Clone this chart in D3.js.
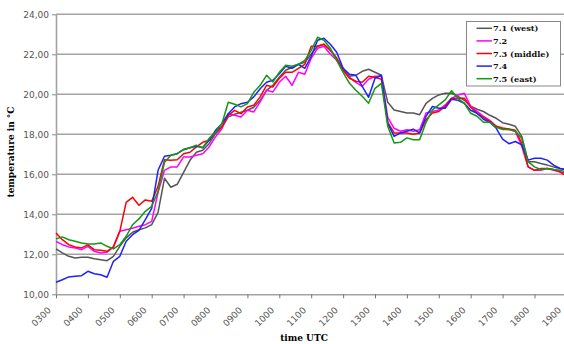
<!DOCTYPE html>
<html><head><meta charset="utf-8">
<script src="https://cdn.jsdelivr.net/npm/d3@7"></script>
<style>body{margin:0;background:#fff}svg{display:block}</style>
</head><body><svg id="c" width="564" height="344"></svg>
<script>
const hourTicks = [3,4,5,6,7,8,9,10,11,12,13,14,15,16,17,18,19];
const xTickLabels = ["0300","0400","0500","0600","0700","0800","0900","1000","1100","1200","1300","1400","1500","1600","1700","1800","1900"];
const yTicks = [10,12,14,16,18,20,22,24];
const yTickLabels = ["10,00","12,00","14,00","16,00","18,00","20,00","22,00","24,00"];
const seriesNames = ["7.1 (west)","7.2","7.3 (middle)","7.4","7.5 (east)"];
const seriesColors = ["#555555","#ff00ff","#ff0000","#2020ff","#119911"];
const times = [3.0,3.2,3.4,3.6,3.8,4.0,4.2,4.4,4.6,4.8,5.0,5.2,5.4,5.6,5.8,6.0,6.2,6.4,6.6,6.8,7.0,7.2,7.4,7.6,7.8,8.0,8.2,8.4,8.6,8.8,9.0,9.2,9.4,9.6,9.8,10.0,10.2,10.4,10.6,10.8,11.0,11.2,11.4,11.6,11.8,12.0,12.2,12.4,12.6,12.8,13.0,13.2,13.4,13.6,13.8,14.0,14.2,14.4,14.6,14.8,15.0,15.2,15.4,15.6,15.8,16.0,16.2,16.4,16.6,16.8,17.0,17.2,17.4,17.6,17.8,18.0,18.2,18.4,18.6,18.8,19.0];
const s71 = [12.27,12.07,11.9,11.82,11.85,11.85,11.78,11.73,11.68,11.9,12.4,12.82,13.1,13.23,13.32,13.48,14.1,15.8,15.35,15.5,16.1,16.7,17.1,17.2,17.53,18.03,18.35,18.87,19.0,19.1,19.2,19.35,19.7,20.2,20.45,20.85,21.2,21.35,21.5,21.6,22.0,22.4,22.5,22.2,21.8,21.3,20.9,20.95,21.15,21.25,21.1,20.95,19.6,19.22,19.14,19.06,19.06,18.98,19.55,19.8,19.97,20.05,20.05,19.9,19.7,19.4,19.25,19.14,18.95,18.8,18.58,18.5,18.4,17.9,16.63,16.63,16.54,16.46,16.37,16.29,16.2];
const s72 = [12.65,12.48,12.37,12.32,12.23,12.4,12.15,12.07,12.1,12.37,13.15,13.23,13.3,13.4,13.48,13.65,15.1,16.2,16.37,16.37,16.87,16.87,16.95,17.03,17.37,17.87,18.28,19.03,18.95,18.87,19.2,19.12,19.62,20.2,20.12,20.6,20.9,20.45,21.1,21.0,21.8,22.3,22.4,22.0,21.7,21.2,20.85,20.6,20.4,20.75,20.9,20.9,18.85,18.3,18.15,18.23,18.15,18.23,19.06,19.14,19.22,19.47,19.8,19.97,20.05,19.4,19.15,18.9,18.7,18.4,18.27,18.24,18.15,17.4,16.37,16.2,16.2,16.29,16.2,16.12,16.05];
const s73 = [13.07,12.73,12.48,12.37,12.32,12.47,12.23,12.2,12.15,12.37,13.15,14.6,14.85,14.45,14.72,14.65,15.4,16.73,16.7,16.73,17.03,17.1,17.37,17.6,17.7,18.1,18.37,18.95,19.2,19.03,19.37,19.45,19.87,20.45,20.37,20.8,21.1,21.1,21.3,21.5,22.4,22.4,22.5,22.2,21.8,21.2,20.8,20.65,20.6,20.9,20.85,20.75,18.6,18.07,18.07,18.07,18.0,18.07,18.73,19.06,19.14,19.4,19.8,19.8,19.8,19.35,19.05,18.85,18.65,18.4,18.32,18.27,18.2,17.56,16.37,16.2,16.29,16.29,16.24,16.12,15.9];
const s74 = [10.6,10.73,10.87,10.9,10.93,11.15,11.03,10.98,10.85,11.65,11.9,12.65,12.98,13.2,13.73,14.3,16.2,16.9,16.95,17.03,17.23,17.33,17.4,17.33,17.7,18.2,18.53,19.03,19.37,19.53,19.6,19.87,20.28,20.6,20.7,21.03,21.4,21.3,21.5,21.3,21.9,22.7,22.8,22.5,22.1,21.3,21.0,20.95,20.4,19.85,20.8,20.95,18.55,17.9,18.07,18.15,18.26,18.07,18.9,19.39,19.3,19.3,19.75,19.7,19.55,19.2,19.05,18.75,18.6,18.3,17.76,17.53,17.64,17.47,16.71,16.8,16.8,16.71,16.46,16.29,16.25];
const s75 = [12.77,12.87,12.73,12.65,12.57,12.52,12.52,12.57,12.4,12.27,12.48,12.9,13.48,13.77,14.15,14.4,15.15,16.6,16.95,17.03,17.25,17.33,17.45,17.33,17.8,18.1,18.53,19.6,19.5,19.37,19.53,20.1,20.45,20.95,20.62,21.1,21.45,21.4,21.5,21.7,22.2,22.85,22.7,22.3,21.7,21.1,20.55,20.2,19.9,19.55,20.3,20.55,18.4,17.57,17.6,17.82,17.73,17.73,18.6,19.22,19.47,19.72,20.18,19.8,19.55,19.05,18.9,18.6,18.6,18.35,18.24,18.24,18.15,17.8,16.63,16.37,16.24,16.29,16.24,16.2,16.1];
const seriesValues = [s71,s72,s73,s74,s75];

const svg = d3.select("#c");
const x = d3.scaleLinear().domain([3,19]).range([56,566.4]);
const y = d3.scaleLinear().domain([10,24]).range([294.3,14.3]);
const gridCol = "#a3a3a3";

// gridlines
svg.append("g").selectAll("line").data(yTicks.filter(v=>v>10)).join("line")
  .attr("x1",56).attr("x2",564).attr("y1",d=>y(d)).attr("y2",d=>y(d))
  .attr("stroke",gridCol).attr("stroke-width",1.6);

// y axis
const yAxis = d3.axisLeft(y).tickValues(yTicks).tickSize(4).tickSizeOuter(0)
  .tickFormat((d,i)=>yTickLabels[i]);
const gy = svg.append("g").attr("transform","translate(56,0)").call(yAxis);
gy.select(".domain").attr("stroke",gridCol).attr("stroke-width",1.6);
gy.selectAll(".tick line").attr("stroke","#888");
gy.selectAll(".tick text").attr("font-family","DejaVu Sans").attr("font-size",9).attr("fill","#555").attr("x",-7);

// x axis
const xAxis = d3.axisBottom(x).tickValues(hourTicks).tickSize(4).tickSizeOuter(0)
  .tickFormat((d,i)=>xTickLabels[i]);
const gx = svg.append("g").attr("transform","translate(0,294.3)").call(xAxis);
gx.select(".domain").attr("stroke",gridCol).attr("stroke-width",1.6);
gx.selectAll(".tick line").attr("stroke","#777");
gx.selectAll(".tick text").attr("font-family","DejaVu Sans").attr("font-size",9).attr("fill","#555")
  .attr("text-anchor","end").attr("dy",0).attr("y",0)
  .attr("transform","translate(-5,16.5) rotate(-45)");

// lines
const line = d3.line().x((d,i)=>x(times[i])).y(d=>y(d));
svg.append("g").selectAll("path").data(seriesValues).join("path")
  .attr("d",d=>line(d)).attr("fill","none")
  .attr("stroke",(d,i)=>seriesColors[i]).attr("stroke-width",1.5)
  .attr("stroke-linejoin","round");

// titles
svg.append("text").attr("x",304).attr("y",341).attr("text-anchor","middle")
  .attr("font-family","DejaVu Serif").attr("font-weight","bold").attr("font-size",9).text("time UTC");
svg.append("text").attr("transform","translate(14,152) rotate(-90)").attr("text-anchor","middle")
  .attr("font-family","DejaVu Serif").attr("font-weight","bold").attr("font-size",9).text("temperature in °C");

// legend
const lg = svg.append("g");
lg.append("rect").attr("x",466.5).attr("y",21.5).attr("width",94).attr("height",64.5)
  .attr("fill","#fff").attr("stroke","#888").attr("stroke-width",1);
const rows = lg.selectAll("g").data(seriesNames).join("g")
  .attr("transform",(d,i)=>`translate(0,${28.3+i*12.6})`);
rows.append("line").attr("x1",476.5).attr("x2",492).attr("y1",0).attr("y2",0)
  .attr("stroke",(d,i)=>seriesColors[i]).attr("stroke-width",1.5);
rows.append("text").attr("x",493).attr("y",3).attr("font-family","DejaVu Serif").attr("font-weight","bold")
  .attr("font-size",8.2).attr("fill","#111").text(d=>d);
</script></body></html>
